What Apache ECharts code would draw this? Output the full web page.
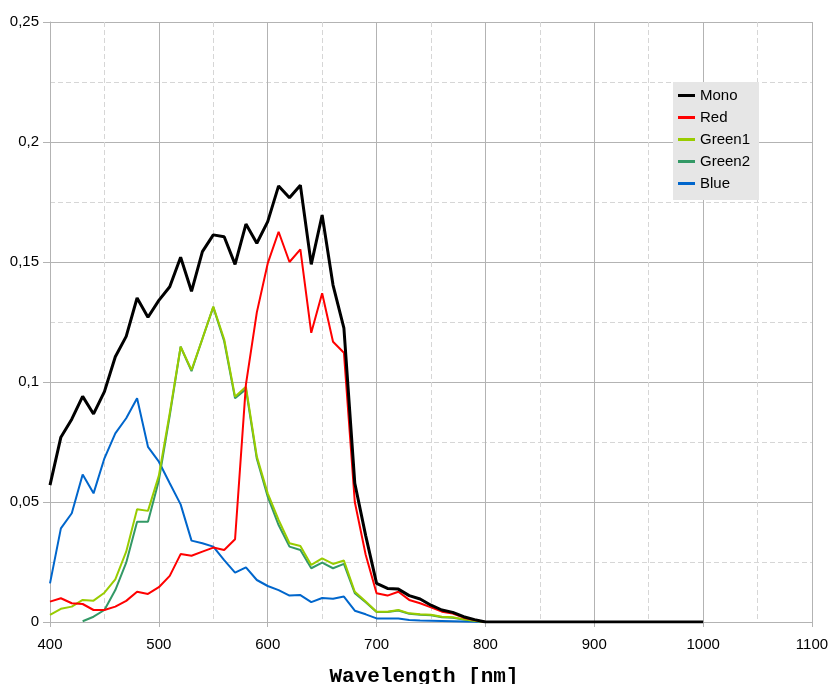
<!DOCTYPE html>
<html>
<head>
<meta charset="utf-8">
<script src="https://cdn.jsdelivr.net/npm/echarts@6/dist/echarts.min.js"></script>
<style>
html,body{margin:0;padding:0;background:#fff;}
#chart{width:832px;height:684px;}
</style>
</head>
<body>
<div id="chart"></div>
<script>
// Wavelengths (nm) for the filter series
const wavelengths = [400,410,420,430,440,450,460,470,480,490,500,510,520,530,540,550,560,570,580,590,600,610,620,630,640,650,660,670,680,690,700,710,720,730,740,750,760,770,780,790,800];
// Extra wavelengths covered only by the Mono series
const monoTailWavelengths = [810,820,830,840,850,860,870,880,890,900,910,920,930,940,950,960,970,980,990,1000];

const mono = [0.057,0.077,0.0845,0.094,0.0867,0.096,0.1105,0.119,0.135,0.127,0.134,0.1397,0.152,0.1378,0.1543,0.1613,0.1605,0.149,0.1658,0.1578,0.1668,0.1817,0.1768,0.182,0.149,0.1696,0.1404,0.1224,0.0578,0.036,0.0161,0.014,0.0137,0.011,0.0096,0.007,0.005,0.004,0.0022,0.001,0];
const monoTail = [0,0,0,0,0,0,0,0,0,0,0,0,0,0,0,0,0,0,0,0];
const red = [0.0085,0.0099,0.0078,0.0075,0.005,0.005,0.0064,0.0088,0.0126,0.0117,0.0145,0.0192,0.0283,0.0276,0.0293,0.031,0.030,0.0345,0.099,0.129,0.1494,0.1626,0.150,0.1553,0.1205,0.137,0.1168,0.1122,0.050,0.028,0.012,0.011,0.0126,0.0092,0.0078,0.0061,0.0043,0.0035,0.0018,0.0008,0];
const green1 = [0.003,0.0055,0.0064,0.0092,0.0089,0.0122,0.0178,0.0293,0.047,0.0463,0.061,0.087,0.1147,0.105,0.118,0.1314,0.1178,0.0939,0.098,0.0689,0.0536,0.0425,0.0328,0.0317,0.0238,0.0265,0.0242,0.0256,0.0126,0.0085,0.0043,0.0043,0.005,0.0036,0.0032,0.003,0.0022,0.002,0.0011,0.0005,0];
const green2 = [null,null,null,0.0003,0.0022,0.005,0.0133,0.0247,0.0418,0.0418,0.059,0.086,0.1147,0.1045,0.118,0.1312,0.117,0.0932,0.097,0.068,0.0522,0.0404,0.0314,0.030,0.0224,0.0247,0.0224,0.0242,0.012,0.0082,0.0042,0.0042,0.0048,0.0034,0.003,0.0028,0.002,0.0018,0.001,0.0004,0];
const blue = [0.0161,0.039,0.0453,0.0615,0.0536,0.0682,0.0786,0.0849,0.0932,0.073,0.0668,0.0578,0.049,0.0339,0.0328,0.0314,0.0258,0.0206,0.0228,0.0175,0.015,0.0133,0.011,0.0112,0.0083,0.01,0.0097,0.0106,0.0047,0.0032,0.0015,0.0015,0.0015,0.0008,0.0006,0.0005,0.0004,0.0003,0.0002,0.0001,0];

const seriesNames = ['Mono','Red','Green1','Green2','Blue'];
const seriesColors = ['#000000','#ff0000','#99cc00','#339966','#0066cc'];

function pairs(xs, ys){ return xs.map((x,i)=>[x, ys[i]]); }

const seriesData = {
  Mono: pairs(wavelengths.concat(monoTailWavelengths), mono.concat(monoTail)),
  Red: pairs(wavelengths, red),
  Green1: pairs(wavelengths, green1),
  Green2: pairs(wavelengths, green2),
  Blue: pairs(wavelengths, blue)
};

const gridMajor = '#b3b3b3';
const gridMinor = '#d6d6d6';
const fontFam = '"Liberation Sans", Arial, sans-serif';

// draw in reverse so Mono ends on top
const series = seriesNames.slice().reverse().map(name => {
  const idx = seriesNames.indexOf(name);
  return {
    name: name,
    type: 'line',
    data: seriesData[name],
    showSymbol: false,
    symbol: 'none',
    connectNulls: false,
    animation: false,
    lineStyle: { color: seriesColors[idx], width: name === 'Mono' ? 3 : 2 },
    itemStyle: { color: seriesColors[idx] },
    emphasis: { disabled: true }
  };
});

const chart = echarts.init(document.getElementById('chart'), null, {renderer:'canvas'});
chart.setOption({
  animation: false,
  backgroundColor: '#ffffff',
  grid: { left: 50, right: 20, top: 22, bottom: 62, containLabel: false, outerBoundsMode: 'none' },
  legend: {
    data: seriesNames,
    orient: 'vertical',
    left: 673,
    top: 82,
    backgroundColor: '#e6e6e6',
    padding: [6, 9, 9, 5],
    itemGap: 7,
    itemWidth: 17,
    itemHeight: 3,
    icon: 'rect',
    selectedMode: false,
    textStyle: { fontFamily: fontFam, fontSize: 15, color: '#000', lineHeight: 15, padding: [0,0,0,0] }
  },
  xAxis: {
    type: 'value',
    min: 400, max: 1100, interval: 100,
    name: 'Wavelength [nm]',
    nameLocation: 'middle',
    nameGap: 44,
    nameTextStyle: { fontFamily: '"Liberation Mono", "DejaVu Sans Mono", monospace', fontWeight: 'bold', fontSize: 21, color: '#000', lineHeight: 21, padding: [0, 14, 0, 0] },
    axisLine: { show: true, lineStyle: { color: gridMajor, width: 1 } },
    axisTick: { show: true, length: 5, lineStyle: { color: gridMajor } },
    axisLabel: { fontFamily: fontFam, fontSize: 15, color: '#000', margin: 15, formatter: v => String(v) },
    splitLine: { show: true, lineStyle: { color: gridMajor, width: 1 } },
    minorTick: { show: false, splitNumber: 2 },
    minorSplitLine: { show: true, lineStyle: { color: gridMinor, type: [5,3], width: 1 } }
  },
  yAxis: {
    type: 'value',
    min: 0, max: 0.25, interval: 0.05,
    axisLine: { show: true, lineStyle: { color: gridMajor, width: 1 } },
    axisTick: { show: true, length: 7, lineStyle: { color: gridMajor } },
    axisLabel: { fontFamily: fontFam, fontSize: 15, color: '#000', margin: 11,
      formatter: v => String(+v.toFixed(2)).replace('.', ',') },
    splitLine: { show: true, lineStyle: { color: gridMajor, width: 1 } },
    minorTick: { show: false, splitNumber: 2 },
    minorSplitLine: { show: true, lineStyle: { color: gridMinor, type: [5,3], width: 1 } }
  },
  series: series
});
</script>
</body>
</html>
